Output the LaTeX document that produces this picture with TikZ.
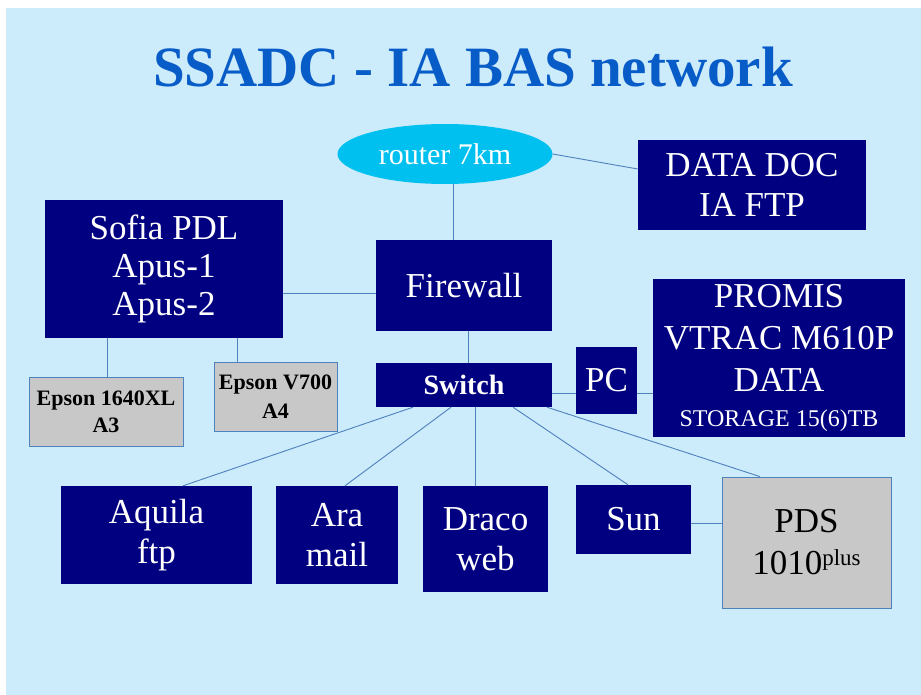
\documentclass[tikz,border=0pt]{standalone}
\usepackage{fontspec}
\setmainfont{Liberation Serif}
\usepackage{tikz}
\usetikzlibrary{shapes.geometric}
\definecolor{slide}{RGB}{204,235,251}
\definecolor{navybox}{RGB}{0,0,128}
\definecolor{greybox}{RGB}{200,200,200}
\definecolor{linkblue}{RGB}{79,129,189}
\definecolor{routercyan}{RGB}{0,192,240}
\definecolor{titleblue}{RGB}{8,92,200}
\tikzset{dark node/.style={rectangle,fill=navybox,text=white,inner sep=0pt,align=center,font=\fontsize{35}{40}\selectfont},
	grey node/.style={rectangle,fill=greybox,draw=linkblue,line width=0.8pt,inner sep=0pt,align=center},
	title text/.style={anchor=base,text=titleblue,font=\fontsize{57}{60}\selectfont\bfseries},
	link/.style={draw=linkblue,line width=0.9pt},
}

\begin{document}
\begin{tikzpicture}[x=1pt,y=-1pt]
	\fill[white] (0,0) rectangle (921,695);
	\fill[slide] (6,8) rectangle (921,695);
	\node[title text] (title) at (473,87) {SSADC - IA BAS network};
	
	\node[ellipse,fill=routercyan,text=white,inner sep=0pt,minimum width=215pt,minimum height=60pt,font=\fontsize{30}{34}\selectfont] (router) at (445,154) {router 7km};
	\node[dark node,minimum width=228pt,minimum height=90pt] (datadoc) at (752,185) {DATA DOC\\IA FTP};
	\node[dark node,minimum width=238pt,minimum height=138pt,font=\fontsize{35}{38}\selectfont] (sofia) at (164,269) {Sofia PDL\\Apus-1\\Apus-2};
	\node[dark node,minimum width=176pt,minimum height=91pt] (firewall) at (464,285.5) {Firewall};
	\node[dark node,minimum width=176pt,minimum height=44pt,font=\fontsize{28}{32}\selectfont\bfseries] (switch) at (464,385) {Switch};
	\node[dark node,minimum width=61pt,minimum height=67pt] (pc) at (606.5,380.5) {PC};
	\node[dark node,minimum width=252pt,minimum height=158pt,font=\fontsize{35}{42}\selectfont] (promis) at (779,358) {PROMIS\\VTRAC M610P\\DATA\\[-7pt]{\fontsize{24}{28}\selectfont STORAGE 15(6)TB}};
	\node[grey node,minimum width=154pt,minimum height=69pt,font=\fontsize{22}{27}\selectfont\bfseries] (epsonA) at (106,411.5) {Epson 1640XL\\A3};
	\node[grey node,minimum width=123pt,minimum height=69pt,font=\fontsize{22}{29}\selectfont\bfseries] (epsonB) at (275.5,396.5) {Epson V700\\A4};
	\node[dark node,minimum width=191pt,minimum height=98pt] (aquila) at (156.5,535) {Aquila\\ftp};
	\node[dark node,minimum width=122pt,minimum height=98pt] (ara) at (337,535) {Ara\\mail};
	\node[dark node,minimum width=125pt,minimum height=106pt] (draco) at (485.5,539) {Draco\\web};
	\node[dark node,minimum width=115pt,minimum height=69pt] (sun) at (633.5,519.5) {Sun};
	\node[grey node,minimum width=169pt,minimum height=131pt,font=\fontsize{35}{42}\selectfont] (pds) at (806.5,542.5) {PDS\\1010\raisebox{9pt}{\fontsize{23}{23}\selectfont plus}};
	
	\path[link]
	([xshift=8pt]router.south) edge ([xshift=-11pt]firewall.north)
	(router.east) edge ([yshift=16pt]datadoc.west)
	([yshift=-24pt]sofia.east) edge ([yshift=-7.5pt]firewall.west)
	([xshift=4pt]firewall.south) edge ([xshift=4pt]switch.north)
	([yshift=-8pt]switch.east) edge ([yshift=-12.5pt]pc.west)
	([yshift=-12.5pt]pc.east) edge ([yshift=-35pt]promis.west)
	([xshift=-57pt]sofia.south) edge ([xshift=1pt]epsonA.north)
	([xshift=73pt]sofia.south) edge ([xshift=-38.5pt]epsonB.north)
	([xshift=-51pt]switch.south) edge ([xshift=26.5pt]aquila.north)
	([xshift=-13pt]switch.south) edge ([xshift=8pt]ara.north)
	([xshift=11pt]switch.south) edge ([xshift=-10.5pt]draco.north)
	([xshift=49pt]switch.south) edge ([xshift=-5.5pt]sun.north)
	([xshift=83pt]switch.south) edge ([xshift=-46.5pt]pds.north)
	([yshift=-3.5pt]sun.east) edge ([yshift=19.5pt]pds.west)
	;
\end{tikzpicture}
\end{document}
